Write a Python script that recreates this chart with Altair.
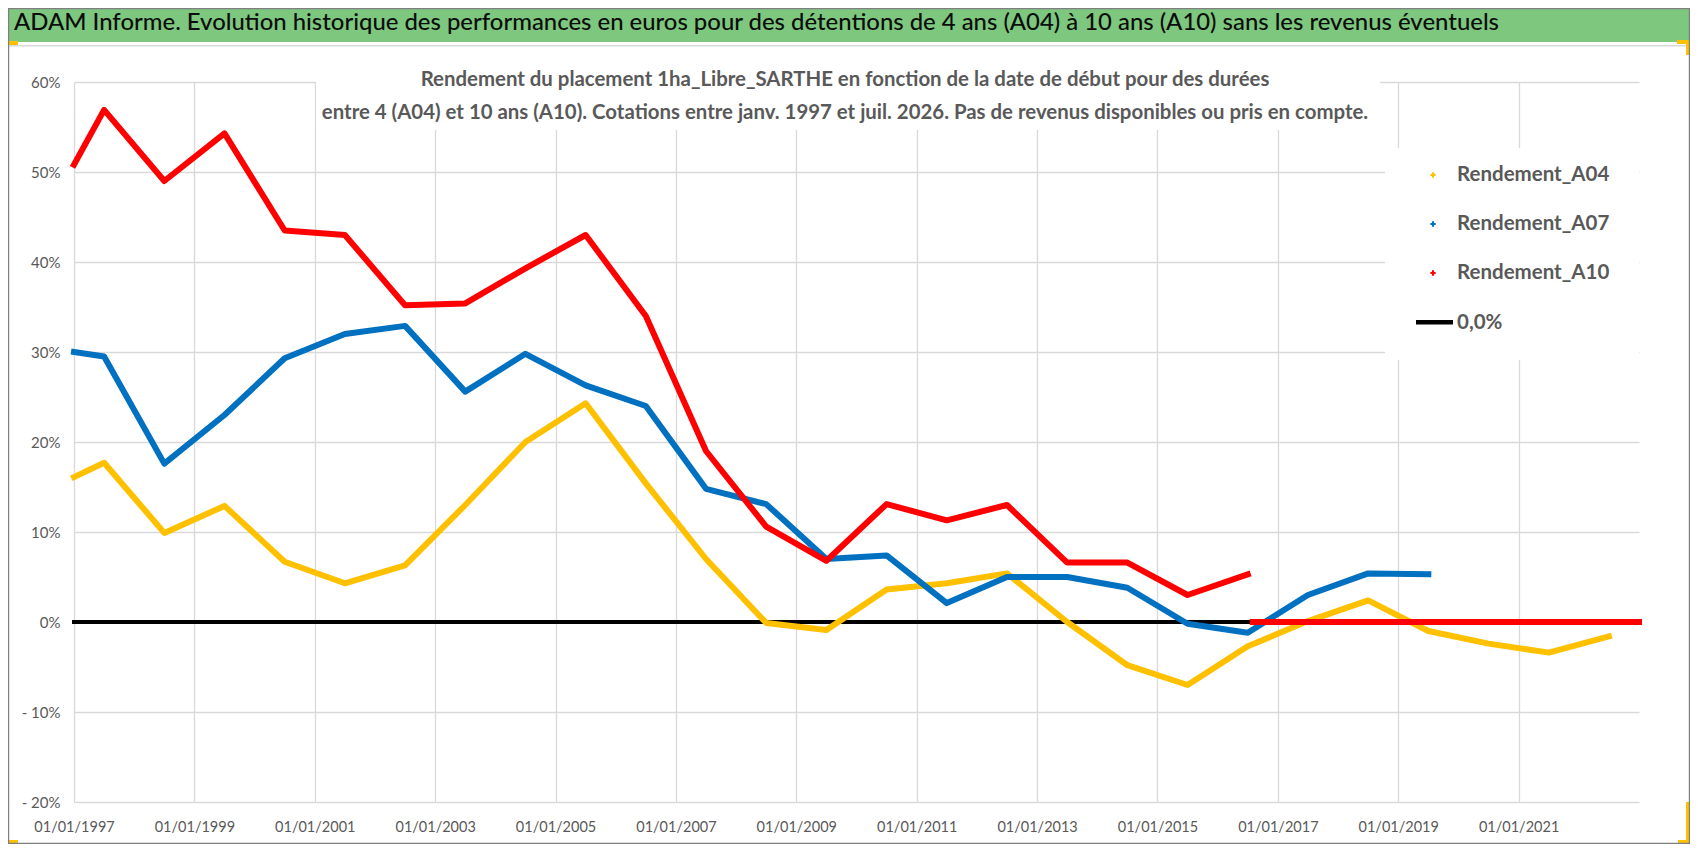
import altair as alt
import pandas as pd

# ---------------- data ----------------
DATES = ["1997-01", "1997-07", "1998-07", "1999-07", "2000-07", "2001-07", "2002-07",
         "2003-07", "2004-07", "2005-07", "2006-07", "2007-07", "2008-07", "2009-07",
         "2010-07", "2011-07", "2012-07", "2013-07", "2014-07", "2015-07", "2016-07",
         "2017-07", "2018-07", "2019-07", "2020-07", "2021-07", "2022-07"]

A04 = [16.1, 17.7, 9.9, 12.9, 6.7, 4.3, 6.3, 13.0, 20.0, 24.3, 15.4, 7.0, -0.1, -0.9,
       3.6, 4.3, 5.4, 0.0, -4.8, -7.0, -2.7, 0.1, 2.4, -1.0, -2.4, -3.4, -1.6]
A07 = [30.0, 29.5, 17.6, 23.0, 29.3, 32.0, 32.9, 25.6, 29.8, 26.3, 24.0, 14.8, 13.1, 7.0,
       7.4, 2.1, 5.0, 5.0, 3.8, -0.2, -1.2, 3.0, 5.4, 5.3]
A10 = [50.8, 56.9, 49.0, 54.3, 43.5, 43.0, 35.2, 35.4, 39.3, 43.0, 34.0, 19.0, 10.6, 6.8,
       13.1, 11.3, 13.0, 6.6, 6.6, 3.0, 5.3]
A10_ZERO_DATES = ["2016-08", "2023-01"]
A10_ZERO_VALUES = [0.0, 0.0]
ZERO_DATES = ["1997-01", "2023-01"]
ZERO_VALUES = [0.0, 0.0]

SERIES = ["Rendement_A04", "Rendement_A07", "Rendement_A10"]
COLORS = ["#FFC000", "#0070C0", "#FF0000"]
ZERO_LABEL = "0,0%"

X_TICKS = list(range(1997, 2022, 2))
Y_TICKS = list(range(-20, 61, 10))

TITLE = ("ADAM Informe. Evolution historique des performances en euros pour des détentions "
         "de 4 ans (A04) à 10 ans (A10) sans les revenus éventuels")
SUBTITLE = ["Rendement du placement 1ha_Libre_SARTHE en fonction de la date de début pour des durées",
            "entre 4 (A04) et 10 ans (A10). Cotations entre janv. 1997 et juil. 2026. "
            "Pas de revenus disponibles ou pris en compte."]

FONT = "Lato"
GREY_TXT = "#595959"


def to_year(s):
    y, m = s.split("-")
    return int(y) + (int(m) - 1) / 12.0


def frame(dates, values):
    return pd.DataFrame({"t": [to_year(d) for d in dates], "v": values})


# ---------------- layout (plot area coordinates) ----------------
W, H = 1565, 720
PAD = {"left": 66, "top": 74, "right": 51, "bottom": 42}
TOTAL_W = W + PAD["left"] + PAD["right"]
TOTAL_H = H + PAD["top"] + PAD["bottom"]
L, T = -PAD["left"], -PAD["top"]
R, B = TOTAL_W - PAD["left"], TOTAL_H - PAD["top"]

one = pd.DataFrame({"k": [0]})

xscale = alt.Scale(domain=[1997, 2023], nice=False, zero=False)
yscale = alt.Scale(domain=[-20, 60], nice=False, zero=False)

xaxis = alt.Axis(values=X_TICKS, labelExpr="'01/01/' + datum.value", title=None,
                 grid=True, gridColor="#D9D9D9", gridWidth=1.3, ticks=False, domain=False,
                 labelFont=FONT, labelFontSize=14.5, labelColor=GREY_TXT, labelPadding=18,
                 labelFlush=False)
yaxis = alt.Axis(values=Y_TICKS,
                 labelExpr="datum.value < 0 ? '- ' + (-datum.value) + '%' : datum.value + '%'",
                 title=None, grid=True, gridColor="#D9D9D9", gridWidth=1.3, ticks=False,
                 domain=False, labelFont=FONT, labelFontSize=15, labelColor=GREY_TXT,
                 labelPadding=14)


def rect(x1, x2, y1, y2, color, **kw):
    return alt.Chart(one).mark_rect(color=color, **kw).encode(
        x=alt.value(x1), x2=alt.value(x2), y=alt.value(y1), y2=alt.value(y2))


# background decorations
title_bar = rect(L, R, T, T + 34, "#7DC87E")
title_sep = rect(L, R, T + 37, T + 38.5, "#D9D9D9")
outer = alt.Chart(one).mark_rect(fill=None, stroke="#7F7F7F", strokeWidth=1.2).encode(
    x=alt.value(L + 0.6), x2=alt.value(R - 0.6), y=alt.value(T + 0.6), y2=alt.value(B - 0.6))
handles = [
    rect(L, L + 10, T + 33, T + 37, "#FFC000"),
    rect(R - 13, R, T + 32, T + 36, "#FFC000"),
    rect(R - 4, R, T + 32, T + 47, "#FFC000"),
    rect(R - 4, R, B - 42, B, "#FFC000"),
    rect(R - 12, R, B - 4, B, "#FFC000"),
    rect(L, L + 10, B - 4, B, "#FFC000"),
]

title_txt = alt.Chart(pd.DataFrame({"s": [TITLE]})).mark_text(
    align="left", baseline="middle", font=FONT, fontSize=23.9, fontWeight=500,
    color="#0D0D0D"
).encode(x=alt.value(L + 6), y=alt.value(T + 15), text="s:N")

sub_box = rect(242, 1306, -27, 48, "white")
sub_txt = alt.Chart(pd.DataFrame({"s": SUBTITLE, "yy": [-2, 31]})).mark_text(
    align="center", baseline="middle", font=FONT, fontSize=20.4, fontWeight="bold",
    color=GREY_TXT
).encode(x=alt.value(771), y=alt.Y("yy:Q", scale=None), text="s:N")

leg_box = rect(1311, W, 66, 278, "white")

leg_df = pd.DataFrame({"lab": SERIES, "col": COLORS, "yy": [93, 142, 191]})
leg_pts = alt.Chart(leg_df).mark_point(shape="cross", filled=True, size=28, opacity=1).encode(
    x=alt.value(1359), y=alt.Y("yy:Q", scale=None),
    color=alt.Color("col:N", scale=None, legend=None))
leg_txt = alt.Chart(leg_df).mark_text(
    align="left", baseline="middle", font=FONT, fontSize=20.5, fontWeight="bold",
    color=GREY_TXT).encode(x=alt.value(1383), y=alt.Y("yy:Q", scale=None), text="lab:N")
leg_line = rect(1342, 1379, 238, 242.5, "black")
leg_zero = alt.Chart(pd.DataFrame({"lab": [ZERO_LABEL]})).mark_text(
    align="left", baseline="middle", font=FONT, fontSize=20.5, fontWeight="bold",
    color=GREY_TXT).encode(x=alt.value(1383), y=alt.value(241), text="lab:N")

# data layers
base_x = alt.X("t:Q", scale=xscale, axis=xaxis)
base_y = alt.Y("v:Q", scale=yscale, axis=yaxis)


def series_line(df, color, width):
    return alt.Chart(df).mark_line(color=color, strokeWidth=width, strokeJoin="round",
                                   strokeCap="square").encode(x=base_x, y=base_y)


zero_line = series_line(frame(ZERO_DATES, ZERO_VALUES), "black", 4)
l04 = series_line(frame(DATES[:len(A04)], A04), COLORS[0], 6)
l07 = series_line(frame(DATES[:len(A07)], A07), COLORS[1], 6)
l10 = series_line(frame(DATES[:len(A10)], A10), COLORS[2], 6)
l10z = series_line(frame(A10_ZERO_DATES, A10_ZERO_VALUES), COLORS[2], 6)

chart = alt.layer(
    title_bar, title_sep, *handles, title_txt,
    zero_line, l04, l07, l10, l10z,
    sub_box, sub_txt, leg_box, leg_pts, leg_txt, leg_line, leg_zero, outer,
).properties(
    width=W, height=H, padding=PAD, autosize=alt.AutoSizeParams(type="none"),
    background="white"
).configure_view(stroke=None)

chart.save("out.html", embed_options={"renderer": "svg", "actions": False})
